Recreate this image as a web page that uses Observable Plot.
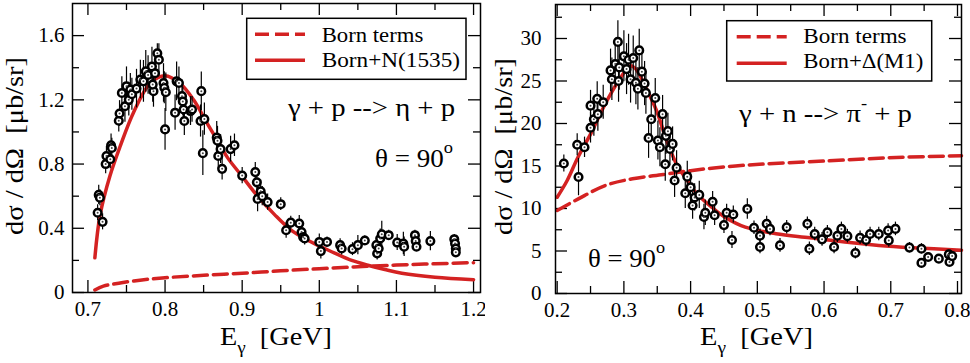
<!DOCTYPE html>
<html><head><meta charset="utf-8">
<script src="https://cdn.jsdelivr.net/npm/d3@7"></script>
<script src="https://cdn.jsdelivr.net/npm/@observablehq/plot@0.6"></script>
<style>
body{margin:0;background:#fff;}
#wrap{display:flex;width:970px;height:363px;overflow:hidden;}
svg, svg text, svg tspan{font-family:'Liberation Serif','Times New Roman',serif !important;}
</style></head><body><div id="wrap"></div>
<script>
// ---------- Left panel: gamma + p -> eta + p ----------
const etaE   = [0.7126,0.714,0.7155,0.719,0.723,0.724,0.73,0.731,0.729,0.74,0.741,0.744,0.748,0.75,0.753,0.755,0.757,0.763,0.768,0.772,0.775,0.778,0.783,0.785,0.784,0.787,0.79,0.792,0.798,0.799,0.8,0.801,0.813,0.815,0.818,0.822,0.823,0.824,0.825,0.833,0.835,0.846,0.847,0.849,0.851,0.867,0.868,0.869,0.872,0.874,0.885,0.89,0.9,0.917,0.919,0.92,0.924,0.926,0.933,0.95,0.957,0.963,0.974,0.977,0.979,0.981,1.0,1.002,1.01,1.027,1.029,1.043,1.05,1.059,1.074,1.075,1.077,1.079,1.081,1.09,1.101,1.109,1.11,1.124,1.125,1.126,1.144,1.175,1.176,1.177,1.177];
const etaSig = [0.497,0.608,0.59,0.44,0.80,0.85,0.917,0.90,0.83,1.07,1.115,1.243,1.16,1.285,1.2,1.264,1.235,1.27,1.326,1.315,1.377,1.355,1.408,1.254,1.295,1.366,1.49,1.45,1.305,1.275,1.016,1.247,1.12,1.315,1.305,1.223,1.19,1.14,1.068,1.13,1.14,1.068,1.254,0.868,1.08,0.965,0.945,0.85,0.893,0.77,0.893,0.917,0.728,0.75,0.687,0.583,0.63,0.6,0.563,0.55,0.388,0.435,0.43,0.377,0.345,0.336,0.315,0.258,0.315,0.295,0.274,0.27,0.295,0.324,0.295,0.243,0.274,0.336,0.363,0.357,0.311,0.305,0.285,0.357,0.32,0.285,0.32,0.332,0.305,0.274,0.25];
const etaErr = [0.05,0.06,0.05,0.05,0.06,0.06,0.07,0.06,0.06,0.07,0.08,0.10,0.10,0.12,0.10,0.10,0.10,0.12,0.12,0.13,0.13,0.12,0.12,0.10,0.11,0.12,0.06,0.10,0.12,0.10,0.13,0.12,0.11,0.12,0.10,0.10,0.09,0.10,0.09,0.09,0.08,0.10,0.12,0.14,0.10,0.10,0.09,0.08,0.09,0.07,0.08,0.07,0.05,0.06,0.07,0.08,0.07,0.06,0.05,0.04,0.05,0.04,0.05,0.05,0.04,0.04,0.05,0.05,0.03,0.04,0.04,0.04,0.06,0.03,0.05,0.04,0.05,0.06,0.08,0.03,0.05,0.07,0.06,0.03,0.03,0.03,0.06,0.03,0.03,0.03,0.03];
const etaFullE = [0.709,0.7157,0.7287,0.742,0.759,0.781,0.8,0.82,0.837,0.855,0.87,0.881,0.898,0.92,0.942,0.963,0.985,1.0,1.02,1.042,1.063,1.085,1.107,1.15,1.2];
const etaFullS = [0.216,0.48,0.728,0.913,1.12,1.305,1.35,1.30,1.2,1.05,0.93,0.84,0.735,0.60,0.485,0.39,0.325,0.29,0.245,0.2,0.17,0.143,0.12,0.095,0.08];
const etaBornE = [0.709,0.72,0.74,0.77,0.8,0.85,0.9,0.95,1.0,1.05,1.1,1.15,1.2];
const etaBornS = [0.016,0.04,0.058,0.078,0.092,0.107,0.12,0.135,0.148,0.16,0.171,0.179,0.186];
const etaXTicks = [0.7,0.8,0.9,1,1.1,1.2];
const etaXMinor = [0.75,0.85,0.95,1.05,1.15];
const etaYTicks = [0,0.4,0.8,1.2,1.6];
const etaYMinor = [0.2,0.6,1.0,1.4];

// ---------- Right panel: gamma + n -> pi- + p ----------
const piE   = [0.21,0.23,0.232,0.241,0.25,0.25,0.255,0.26,0.261,0.269,0.28,0.282,0.287,0.291,0.292,0.293,0.3,0.304,0.307,0.31,0.314,0.318,0.321,0.323,0.327,0.331,0.333,0.337,0.341,0.347,0.351,0.354,0.358,0.362,0.363,0.366,0.369,0.373,0.376,0.379,0.392,0.395,0.4,0.403,0.406,0.413,0.42,0.422,0.433,0.436,0.45,0.454,0.462,0.464,0.485,0.495,0.504,0.504,0.514,0.519,0.534,0.544,0.575,0.578,0.586,0.597,0.605,0.615,0.62,0.626,0.635,0.647,0.654,0.663,0.669,0.682,0.696,0.697,0.707,0.728,0.746,0.746,0.756,0.772,0.787,0.788,0.792];
const piSig = [15.3,17.5,13.7,17.2,19.5,22.1,20.5,22.9,21.1,22.5,26.25,25.2,27.0,29.6,25.0,26.6,27.9,26.4,27.5,25.2,27.7,24.8,24.1,28.6,26.1,24.7,23.6,18.3,20.5,23.0,18.0,17.2,21.1,15.2,18.55,19.1,17.0,17.6,13.3,14.8,11.8,13.75,12.5,10.35,11.3,11.6,9.0,9.5,10.8,9.2,8.05,9.5,6.3,9.3,9.95,7.73,6.8,5.47,8.2,7.6,5.66,7.8,8.2,5.27,7.0,6.37,7.2,5.47,6.8,7.6,6.75,4.77,6.56,6.3,7.0,7.0,7.4,6.25,7.6,5.4,5.27,3.6,4.3,4.1,4.6,3.7,4.4];
const piErr = [1.0,1.3,2.2,1.2,1.8,1.8,2,2,2,2,2.5,2.5,2.8,2.5,2.5,2.7,3,3,3,2.8,2.6,2.6,2.5,2.5,2.6,2.6,2.5,2.4,2.4,2.3,2.3,2.3,2.2,2.0,2.2,2.1,2.0,2.0,2.0,2.0,1.8,1.8,1.7,1.6,1.6,1.6,1.5,1.5,1.2,1.2,1.0,1.0,1.0,1.0,1.2,0.8,0.8,0.8,0.9,0.8,0.8,0.8,0.8,0.8,0.8,0.8,0.8,0.8,0.8,0.8,0.8,0.7,0.8,0.8,0.8,0.8,0.8,0.8,0.8,0.6,0.6,0.5,0.5,0.5,0.5,0.5,0.5];
const piFullE = [0.2,0.215,0.231,0.251,0.272,0.292,0.31,0.318,0.333,0.349,0.364,0.379,0.395,0.41,0.431,0.451,0.482,0.528,0.579,0.631,0.682,0.733,0.806];
const piFullS = [11.33,13.3,16.0,18.9,22.3,25.0,26.8,26.4,24.2,21.5,18.0,15.2,13.3,11.7,10.2,9.0,7.8,7.03,6.56,6.05,5.66,5.39,5.1];
const piBornE = [0.2,0.231,0.272,0.313,0.359,0.4,0.451,0.503,0.605,0.708,0.806];
const piBornS = [9.77,11.1,12.7,13.5,14.0,14.45,14.9,15.2,15.6,16.0,16.2];
const piXTicks = [0.2,0.3,0.4,0.5,0.6,0.7,0.8];
const piXMinor = [0.25,0.35,0.45,0.55,0.65,0.75];
const piYTicks = [0,5,10,15,20,25,30];
const piYMinor = [2.5,7.5,12.5,17.5,22.5,27.5,32.5];

const RED = "#d42222";
const FONT = "'Liberation Serif','Times New Roman',serif";
const zip = (xs, ys, es) => xs.map((x, i) => ({x, y: ys[i], e: es ? es[i] : 0}));

function panel(cfg) {
  const W = 485, H = 363;
  const pw = W - cfg.ml - cfg.mr, ph = H - cfg.mt - cfg.mb;
  const pts = zip(cfg.xs, cfg.ys, cfg.es);
  const full = zip(cfg.fx, cfg.fy);
  const born = zip(cfg.bx, cfg.by);
  const tk = (vals, len) => [
    Plot.tickX(vals, {x: d => d, insetTop: ph - len, stroke: "black", strokeWidth: 1.3}),
    Plot.tickX(vals, {x: d => d, insetBottom: ph - len, stroke: "black", strokeWidth: 1.3})
  ];
  const tky = (vals, len) => [
    Plot.tickY(vals, {y: d => d, insetRight: pw - len, stroke: "black", strokeWidth: 1.3}),
    Plot.tickY(vals, {y: d => d, insetLeft: pw - len, stroke: "black", strokeWidth: 1.3})
  ];
  const svg = Plot.plot({
    width: W, height: H,
    marginLeft: cfg.ml, marginRight: cfg.mr, marginTop: cfg.mt, marginBottom: cfg.mb,
    style: {fontSize: "21px", fontFamily: FONT, background: "white", overflow: "visible"},
    x: {domain: cfg.xd, label: null},
    y: {domain: cfg.yd, label: null},
    marks: [
      ...tk(cfg.xt, 12), ...tk(cfg.xm, 7),
      ...tky(cfg.yt, 12), ...tky(cfg.ym, 7),
      Plot.axisX({ticks: cfg.xt, tickSize: 0, tickPadding: 9, tickFormat: d => String(d)}),
      Plot.axisY({ticks: cfg.yt, tickSize: 0, tickPadding: cfg.ypad, tickFormat: d => String(d)}),
      Plot.line(born, {x: "x", y: "y", stroke: RED, strokeWidth: 3.5, strokeDasharray: "14,6", curve: "catmull-rom"}),
      Plot.line(full, {x: "x", y: "y", stroke: RED, strokeWidth: 3.5, curve: "catmull-rom"}),
      Plot.ruleX(pts, {x: "x", y1: d => d.y - d.e, y2: d => d.y + d.e, stroke: "black", strokeWidth: 1.2}),
      Plot.dot(pts, {x: "x", y: "y", r: 3.8, stroke: "black", strokeWidth: 2.5, fill: "white"}),
      Plot.dot(pts, {x: "x", y: "y", r: 1, fill: "#444"}),
      Plot.frame({stroke: "black", strokeWidth: 1.5})
    ]
  });
  return svg;
}

function rich(svg, x, y, parts, size, opts = {}) {
  const t = d3.select(svg).append("text")
    .attr("x", x).attr("y", y).attr("font-size", size)
    .attr("font-family", FONT).attr("fill", "black")
    .attr("text-anchor", opts.anchor || "start");
  if (opts.rotate) t.attr("transform", `rotate(-90 ${x} ${y})`);
  if (opts.len) t.attr("textLength", opts.len).attr("lengthAdjust", "spacingAndGlyphs");
  parts.forEach(p => {
    const s = t.append("tspan").text(p.t);
    if (p.dy) s.attr("dy", p.dy);
    if (p.fs) s.attr("font-size", p.fs);
  });
}

function legend(svg, b, labels) {
  const g = d3.select(svg).append("g");
  g.append("rect").attr("x", b.x).attr("y", b.y).attr("width", b.w).attr("height", b.h)
    .attr("fill", "white").attr("stroke", "black").attr("stroke-width", 1.5);
  g.append("line").attr("x1", b.lx).attr("x2", b.lx + 50).attr("y1", b.y1).attr("y2", b.y1)
    .attr("stroke", RED).attr("stroke-width", 3.5).attr("stroke-dasharray", "14,6");
  g.append("line").attr("x1", b.lx).attr("x2", b.lx + 50).attr("y1", b.y2).attr("y2", b.y2)
    .attr("stroke", RED).attr("stroke-width", 3.5);
  rich(svg, b.tx, b.b1, [{t: labels[0]}], 20, {len: b.len1});
  rich(svg, b.tx, b.b2, [{t: labels[1]}], 20, {len: b.len2});
}

const left = panel({
  ml: 72, mr: 5, mt: 3, mb: 71, ypad: 8,
  xd: [0.68, 1.209], yd: [0, 1.8],
  xs: etaE, ys: etaSig, es: etaErr,
  fx: etaFullE, fy: etaFullS, bx: etaBornE, by: etaBornS,
  xt: etaXTicks, xm: etaXMinor, yt: etaYTicks, ym: etaYMinor
});
const right = panel({
  ml: 70, mr: 9, mt: 4, mb: 70, ypad: 14,
  xd: [0.1975, 0.806], yd: [0, 34],
  xs: piE, ys: piSig, es: piErr,
  fx: piFullE, fy: piFullS, bx: piBornE, by: piBornS,
  xt: piXTicks, xm: piXMinor, yt: piYTicks, ym: piYMinor
});

const NB = "\u00A0";
// Left texts
rich(left, 220, 345, [{t: "E"}, {t: "γ", dy: 8, fs: 17}, {t: NB + NB + "[GeV]", dy: -8}], 25, {len: 112});
rich(left, 23, 146, [{t: "dσ / dΩ" + NB + NB + "[μb/sr]"}], 25, {rotate: true, anchor: "middle", len: 178});
legend(left, {x: 246.7, y: 18.3, w: 219.3, h: 61, lx: 255, y1: 34.3, y2: 60.3, tx: 321.7, b1: 41.7, b2: 66.7, len1: 101.6, len2: 138.3},
  ["Born terms", "Born+N(1535)"]);
rich(left, 288, 116, [{t: "γ + p --> η + p"}], 25, {len: 167});
rich(left, 375, 167, [{t: "θ = 90"}, {t: "o", dy: -14, fs: 17}], 25, {len: 78});

// Right texts
rich(right, 215, 345, [{t: "E"}, {t: "γ", dy: 8, fs: 17}, {t: NB + NB + "[GeV]", dy: -8}], 25, {len: 113});
rich(right, 26.7, 146.5, [{t: "dσ / dΩ" + NB + NB + "[μb/sr]"}], 25, {rotate: true, anchor: "middle", len: 177});
legend(right, {x: 241.7, y: 20.7, w: 205, h: 60.3, lx: 251.7, y1: 36.7, y2: 63.3, tx: 318.3, b1: 43.3, b2: 68.3, len1: 103.3, len2: 120},
  ["Born terms", "Born+Δ(M1)"]);
rich(right, 254, 122, [{t: "γ + n --> π"}, {t: "-", dy: -13, fs: 16}, {t: " + p", dy: 13}], 25, {len: 173});
rich(right, 103, 267, [{t: "θ = 90"}, {t: "o", dy: -14, fs: 17}], 25, {len: 77});

document.getElementById("wrap").append(left, right);
</script></body></html>
